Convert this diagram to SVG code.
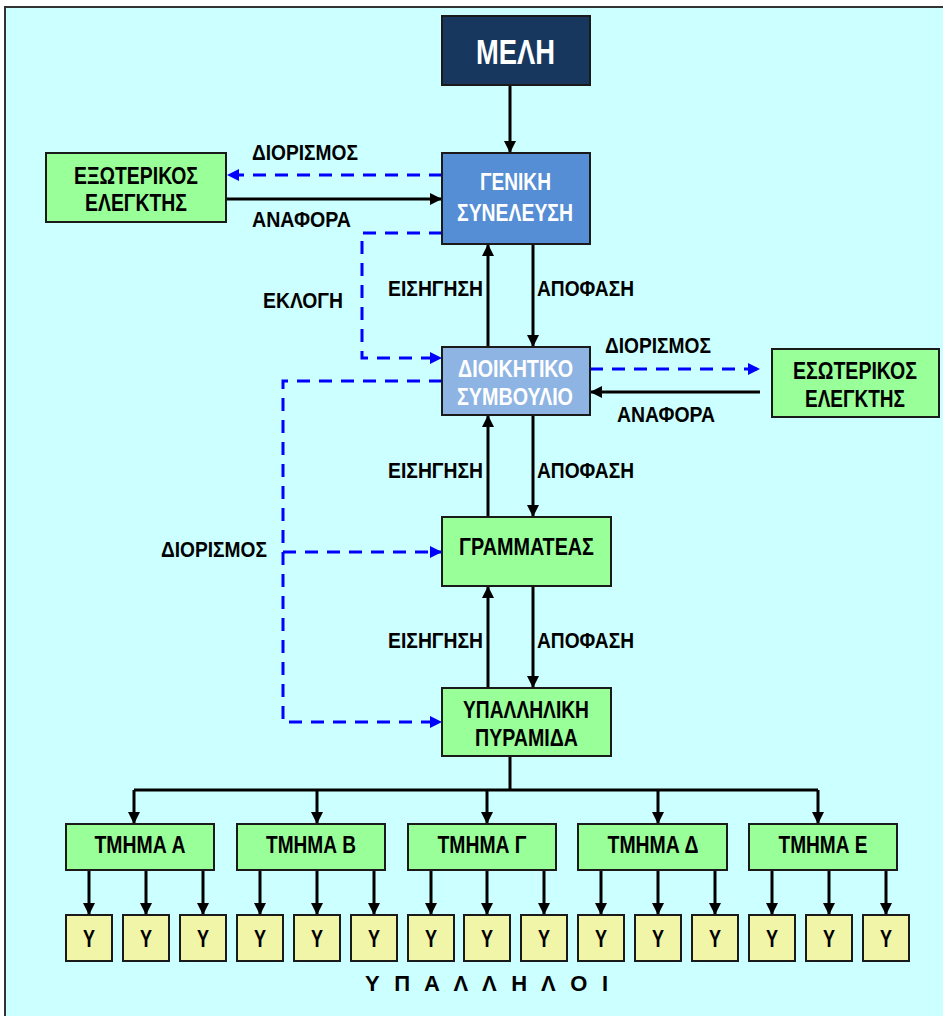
<svg xmlns="http://www.w3.org/2000/svg" width="943" height="1016" viewBox="0 0 943 1016">
<style>
text{font-family:"Liberation Sans",Arial,sans-serif;font-weight:bold;fill:#000}
.lbl{font-size:22px}
.nt{font-size:23px}
.w{fill:#fff}
.box{stroke:#1a1a1a;stroke-width:2}
.g{fill:#99FF99}
.y{fill:#F0F5A8}
.c{fill:none;stroke:#000;stroke-width:3}
.d{fill:none;stroke:#0000FF;stroke-width:3;stroke-dasharray:13 9}
</style>
<defs>
<marker id="ab" markerUnits="userSpaceOnUse" markerWidth="12" markerHeight="12" refX="12" refY="6" orient="auto"><path d="M0,0 L12,6 L0,12 z" fill="#000"/></marker>
<marker id="ub" markerUnits="userSpaceOnUse" markerWidth="12" markerHeight="12" refX="12" refY="6" orient="auto"><path d="M0,0 L12,6 L0,12 z" fill="#0000FF"/></marker>
</defs>
<rect x="0" y="0" width="943" height="1016" fill="#fff"/>
<rect x="5" y="7" width="960" height="1030" fill="#CCFFFF" stroke="#333" stroke-width="2"/>

<g id="connectors">
<path class="c" d="M510,85 V153" marker-end="url(#ab)"/>
<path class="d" d="M442,175 H227" marker-end="url(#ub)"/>
<path class="c" d="M226,199 H442" marker-end="url(#ab)"/>
<path class="d" d="M442,233 H362 V358 H442" marker-end="url(#ub)"/>
<path class="c" d="M488,347 V244" marker-end="url(#ab)"/>
<path class="c" d="M533,244 V347" marker-end="url(#ab)"/>
<path class="d" d="M590,369 H760" marker-end="url(#ub)"/>
<path class="c" d="M760,392 H590" marker-end="url(#ab)"/>
<path class="d" d="M442,381 H283 V722 H442" marker-end="url(#ub)"/>
<path class="d" d="M283,552 H442" marker-end="url(#ub)"/>
<path class="c" d="M488,517 V415" marker-end="url(#ab)"/>
<path class="c" d="M533,415 V517" marker-end="url(#ab)"/>
<path class="c" d="M488,688 V586" marker-end="url(#ab)"/>
<path class="c" d="M533,586 V688" marker-end="url(#ab)"/>
<path class="c" d="M510,756 V790 M134,790 H818"/>
<path class="c" d="M134,790 V824" marker-end="url(#ab)"/>
<path class="c" d="M317,790 V824" marker-end="url(#ab)"/>
<path class="c" d="M487,790 V824" marker-end="url(#ab)"/>
<path class="c" d="M658,790 V824" marker-end="url(#ab)"/>
<path class="c" d="M818,790 V824" marker-end="url(#ab)"/>
<path class="c" d="M89,870 V915" marker-end="url(#ab)"/>
<path class="c" d="M146,870 V915" marker-end="url(#ab)"/>
<path class="c" d="M203,870 V915" marker-end="url(#ab)"/>
<path class="c" d="M260,870 V915" marker-end="url(#ab)"/>
<path class="c" d="M317,870 V915" marker-end="url(#ab)"/>
<path class="c" d="M374,870 V915" marker-end="url(#ab)"/>
<path class="c" d="M431,870 V915" marker-end="url(#ab)"/>
<path class="c" d="M487,870 V915" marker-end="url(#ab)"/>
<path class="c" d="M544,870 V915" marker-end="url(#ab)"/>
<path class="c" d="M601,870 V915" marker-end="url(#ab)"/>
<path class="c" d="M658,870 V915" marker-end="url(#ab)"/>
<path class="c" d="M715,870 V915" marker-end="url(#ab)"/>
<path class="c" d="M772,870 V915" marker-end="url(#ab)"/>
<path class="c" d="M829,870 V915" marker-end="url(#ab)"/>
<path class="c" d="M886,870 V915" marker-end="url(#ab)"/>
</g>

<g id="labels">
<text class="lbl" x="252" y="160" textLength="106" lengthAdjust="spacingAndGlyphs">ΔΙΟΡΙΣΜΟΣ</text>
<text class="lbl" x="252" y="227" textLength="99" lengthAdjust="spacingAndGlyphs">ΑΝΑΦΟΡΑ</text>
<text class="lbl" x="263" y="308" textLength="80" lengthAdjust="spacingAndGlyphs">ΕΚΛΟΓΗ</text>
<text class="lbl" x="388" y="296" textLength="95" lengthAdjust="spacingAndGlyphs">ΕΙΣΗΓΗΣΗ</text>
<text class="lbl" x="537" y="296" textLength="97" lengthAdjust="spacingAndGlyphs">ΑΠΟΦΑΣΗ</text>
<text class="lbl" x="605" y="353" textLength="106" lengthAdjust="spacingAndGlyphs">ΔΙΟΡΙΣΜΟΣ</text>
<text class="lbl" x="617" y="422" textLength="98" lengthAdjust="spacingAndGlyphs">ΑΝΑΦΟΡΑ</text>
<text class="lbl" x="388" y="478" textLength="95" lengthAdjust="spacingAndGlyphs">ΕΙΣΗΓΗΣΗ</text>
<text class="lbl" x="537" y="478" textLength="97" lengthAdjust="spacingAndGlyphs">ΑΠΟΦΑΣΗ</text>
<text class="lbl" x="161" y="557" textLength="106" lengthAdjust="spacingAndGlyphs">ΔΙΟΡΙΣΜΟΣ</text>
<text class="lbl" x="388" y="648" textLength="95" lengthAdjust="spacingAndGlyphs">ΕΙΣΗΓΗΣΗ</text>
<text class="lbl" x="537" y="648" textLength="97" lengthAdjust="spacingAndGlyphs">ΑΠΟΦΑΣΗ</text>
<text class="lbl" x="365" y="991" textLength="243" lengthAdjust="spacing">Υ Π Α Λ Λ Η Λ Ο Ι</text>
</g>

<g id="meli">
<rect class="box" x="442" y="16" width="148" height="69" fill="#17375E"/>
<text class="w" x="476" y="64" font-size="35" textLength="79" lengthAdjust="spacingAndGlyphs">ΜΕΛΗ</text>
</g>
<g id="geniki-syneleusi">
<rect class="box" x="442" y="153" width="148" height="91" fill="#558ED5"/>
<text class="nt w" x="480" y="190" textLength="71" lengthAdjust="spacingAndGlyphs">ΓΕΝΙΚΗ</text>
<text class="nt w" x="457" y="221" textLength="116" lengthAdjust="spacingAndGlyphs">ΣΥΝΕΛΕΥΣΗ</text>
</g>
<g id="exoterikos-elegktis">
<rect class="box g" x="46" y="153" width="180" height="69"/>
<text class="nt" x="74" y="184" textLength="124" lengthAdjust="spacingAndGlyphs">ΕΞΩΤΕΡΙΚΟΣ</text>
<text class="nt" x="85" y="211" textLength="102" lengthAdjust="spacingAndGlyphs">ΕΛΕΓΚΤΗΣ</text>
</g>
<g id="dioikitiko-symvoulio">
<rect class="box" x="442" y="347" width="148" height="68" fill="#8EB4E3"/>
<text class="nt w" x="458" y="377" textLength="115" lengthAdjust="spacingAndGlyphs">ΔΙΟΙΚΗΤΙΚΟ</text>
<text class="nt w" x="457" y="405" textLength="116" lengthAdjust="spacingAndGlyphs">ΣΥΜΒΟΥΛΙΟ</text>
</g>
<g id="esoterikos-elegktis">
<rect class="box g" x="772" y="349" width="167" height="68"/>
<text class="nt" x="793" y="379" textLength="124" lengthAdjust="spacingAndGlyphs">ΕΣΩΤΕΡΙΚΟΣ</text>
<text class="nt" x="805" y="407" textLength="100" lengthAdjust="spacingAndGlyphs">ΕΛΕΓΚΤΗΣ</text>
</g>
<g id="grammateas">
<rect class="box g" x="442" y="517" width="169" height="69"/>
<text class="nt" x="459" y="555" textLength="135" lengthAdjust="spacingAndGlyphs">ΓΡΑΜΜΑΤΕΑΣ</text>
</g>
<g id="ypallyliki-pyramida">
<rect class="box g" x="442" y="688" width="169" height="68"/>
<text class="nt" x="463" y="718" textLength="126" lengthAdjust="spacingAndGlyphs">ΥΠΑΛΛΗΛΙΚΗ</text>
<text class="nt" x="475" y="746" textLength="103" lengthAdjust="spacingAndGlyphs">ΠΥΡΑΜΙΔΑ</text>
</g>
<g id="tmima-a">
<rect class="box g" x="66" y="824" width="148" height="46"/>
<text class="nt" x="140" y="853" text-anchor="middle" textLength="91" lengthAdjust="spacingAndGlyphs">ΤΜΗΜΑ Α</text>
</g>
<g id="tmima-b">
<rect class="box g" x="237" y="824" width="148" height="46"/>
<text class="nt" x="311" y="853" text-anchor="middle" textLength="90" lengthAdjust="spacingAndGlyphs">ΤΜΗΜΑ Β</text>
</g>
<g id="tmima-g">
<rect class="box g" x="408" y="824" width="148" height="46"/>
<text class="nt" x="482" y="853" text-anchor="middle" textLength="89" lengthAdjust="spacingAndGlyphs">ΤΜΗΜΑ Γ</text>
</g>
<g id="tmima-d">
<rect class="box g" x="578" y="824" width="149" height="46"/>
<text class="nt" x="653" y="853" text-anchor="middle" textLength="91" lengthAdjust="spacingAndGlyphs">ΤΜΗΜΑ Δ</text>
</g>
<g id="tmima-e">
<rect class="box g" x="749" y="824" width="148" height="46"/>
<text class="nt" x="823" y="853" text-anchor="middle" textLength="89" lengthAdjust="spacingAndGlyphs">ΤΜΗΜΑ Ε</text>
</g>
<g id="y1"><rect class="box y" x="66" y="915" width="46" height="46"/><text class="nt" x="89" y="947" text-anchor="middle" textLength="12" lengthAdjust="spacingAndGlyphs">Υ</text></g>
<g id="y2"><rect class="box y" x="123" y="915" width="46" height="46"/><text class="nt" x="146" y="947" text-anchor="middle" textLength="12" lengthAdjust="spacingAndGlyphs">Υ</text></g>
<g id="y3"><rect class="box y" x="180" y="915" width="46" height="46"/><text class="nt" x="203" y="947" text-anchor="middle" textLength="12" lengthAdjust="spacingAndGlyphs">Υ</text></g>
<g id="y4"><rect class="box y" x="237" y="915" width="46" height="46"/><text class="nt" x="260" y="947" text-anchor="middle" textLength="12" lengthAdjust="spacingAndGlyphs">Υ</text></g>
<g id="y5"><rect class="box y" x="294" y="915" width="46" height="46"/><text class="nt" x="317" y="947" text-anchor="middle" textLength="12" lengthAdjust="spacingAndGlyphs">Υ</text></g>
<g id="y6"><rect class="box y" x="351" y="915" width="46" height="46"/><text class="nt" x="374" y="947" text-anchor="middle" textLength="12" lengthAdjust="spacingAndGlyphs">Υ</text></g>
<g id="y7"><rect class="box y" x="408" y="915" width="46" height="46"/><text class="nt" x="431" y="947" text-anchor="middle" textLength="12" lengthAdjust="spacingAndGlyphs">Υ</text></g>
<g id="y8"><rect class="box y" x="464" y="915" width="46" height="46"/><text class="nt" x="487" y="947" text-anchor="middle" textLength="12" lengthAdjust="spacingAndGlyphs">Υ</text></g>
<g id="y9"><rect class="box y" x="521" y="915" width="46" height="46"/><text class="nt" x="544" y="947" text-anchor="middle" textLength="12" lengthAdjust="spacingAndGlyphs">Υ</text></g>
<g id="y10"><rect class="box y" x="578" y="915" width="46" height="46"/><text class="nt" x="601" y="947" text-anchor="middle" textLength="12" lengthAdjust="spacingAndGlyphs">Υ</text></g>
<g id="y11"><rect class="box y" x="635" y="915" width="46" height="46"/><text class="nt" x="658" y="947" text-anchor="middle" textLength="12" lengthAdjust="spacingAndGlyphs">Υ</text></g>
<g id="y12"><rect class="box y" x="692" y="915" width="46" height="46"/><text class="nt" x="715" y="947" text-anchor="middle" textLength="12" lengthAdjust="spacingAndGlyphs">Υ</text></g>
<g id="y13"><rect class="box y" x="749" y="915" width="46" height="46"/><text class="nt" x="772" y="947" text-anchor="middle" textLength="12" lengthAdjust="spacingAndGlyphs">Υ</text></g>
<g id="y14"><rect class="box y" x="806" y="915" width="46" height="46"/><text class="nt" x="829" y="947" text-anchor="middle" textLength="12" lengthAdjust="spacingAndGlyphs">Υ</text></g>
<g id="y15"><rect class="box y" x="863" y="915" width="46" height="46"/><text class="nt" x="886" y="947" text-anchor="middle" textLength="12" lengthAdjust="spacingAndGlyphs">Υ</text></g>
</svg>
